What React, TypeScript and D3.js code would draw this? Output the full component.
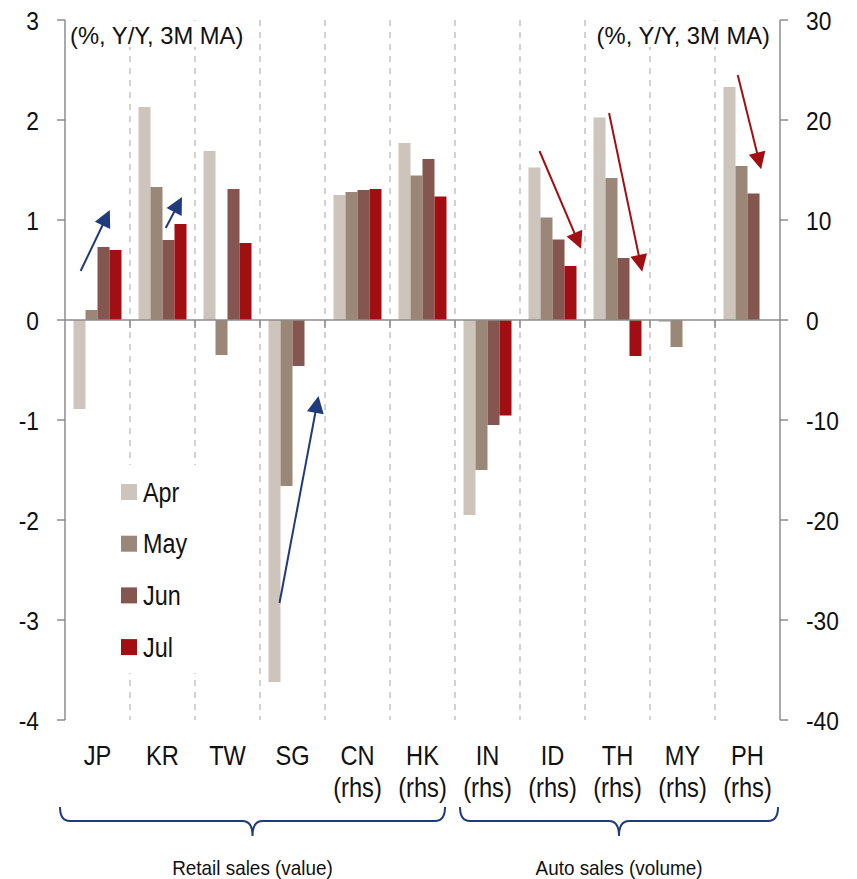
import React from "react";
import * as d3 from "d3";

const categories = ["JP", "KR", "TW", "SG", "CN", "HK", "IN", "ID", "TH", "MY", "PH"];
const onRightAxis = [false, false, false, false, true, true, true, true, true, true, true];
const months = ["Apr", "May", "Jun", "Jul"];

// Growth, % Y/Y 3M MA (lhs countries in left-axis units, rhs countries in right-axis units)
const aprValues = [-0.89, 2.13, 1.69, -3.62, 12.5, 17.7, -19.5, 15.25, 20.25, -0.2, 23.3];
const mayValues = [0.1, 1.33, -0.35, -1.66, 12.8, 14.45, -15.0, 10.25, 14.2, -2.7, 15.4];
const junValues = [0.73, 0.8, 1.31, -0.46, 13.0, 16.1, -10.5, 8.05, 6.2, null, 12.65];
const julValues = [0.7, 0.96, 0.77, null, 13.1, 12.35, -9.55, 5.4, -3.6, null, null];
const seriesValues = [aprValues, mayValues, junValues, julValues];

const leftTicks = [3, 2, 1, 0, -1, -2, -3, -4];
const rightTicks = [30, 20, 10, 0, -10, -20, -30, -40];

// Trend arrows: [x0, y0, x1, y1] with x in category units, y in the named axis units
const upArrows = [
  [0.24, 0.49, 0.69, 1.1],
  [1.55, 0.92, 1.8, 1.23],
  [3.3, -2.83, 3.9, -0.76],
];
const downArrows = [
  [7.3, 16.9, 7.94, 7.13],
  [8.37, 20.7, 8.88, 4.83],
  [10.35, 24.5, 10.71, 15.07],
];

const groups = [
  { label: "Retail sales (value)", from: 0, to: 6 },
  { label: "Auto sales (volume)", from: 6, to: 11 },
];

const colors = ["#cdc4bc", "#9a8778", "#85554f", "#a10f12"];
const axisGray = "#8c8c8c";
const navy = "#1f3b7d";
const arrowRed = "#a10f12";
const font = "'Liberation Sans', Arial, sans-serif";

const W = 857;
const H = 879;
const left = 65;
const right = 780;
const top = 20;
const bottom = 720;

// Narrow-set label: horizontally condensed text
function T(props: {
  x: number;
  y: number;
  size: number;
  sx?: number;
  anchor?: "start" | "middle" | "end";
  children: React.ReactNode;
}) {
  const { x, y, size, sx = 1, anchor = "start", children } = props;
  return (
    <text transform={`translate(${x},${y}) scale(${sx},1)`} fontSize={size} textAnchor={anchor} fill="#111">
      {children}
    </text>
  );
}

export default function App() {
  const x0 = d3.scaleBand<string>().domain(categories).range([left, right]).paddingInner(0).paddingOuter(0);
  const x1 = d3.scaleBand<string>().domain(months).range([8.5, x0.bandwidth() - 8.5]);
  const xc = d3.scaleLinear().domain([0, categories.length]).range([left, right]);
  const yL = d3.scaleLinear().domain([-4, 3]).range([bottom, top]);
  const yR = d3.scaleLinear().domain([-40, 30]).range([bottom, top]);

  const arrow = (a: number[], yScale: d3.ScaleLinear<number, number>, color: string, key: string) => {
    const xa = xc(a[0]);
    const ya = yScale(a[1]);
    const xb = xc(a[2]);
    const yb = yScale(a[3]);
    const len = Math.hypot(xb - xa, yb - ya);
    const ux = (xb - xa) / len;
    const uy = (yb - ya) / len;
    const headLen = 17;
    const headHalf = 8.5;
    const bx = xb - ux * headLen;
    const by = yb - uy * headLen;
    const head = [
      [xb, yb],
      [bx - uy * headHalf, by + ux * headHalf],
      [bx + uy * headHalf, by - ux * headHalf],
    ];
    return (
      <g key={key}>
        <line x1={xa} y1={ya} x2={bx + ux * 2} y2={by + uy * 2} stroke={color} strokeWidth={2} />
        <path d={"M" + head.map((p) => p.join(",")).join("L") + "Z"} fill={color} />
      </g>
    );
  };

  const brace = (x0p: number, x1p: number) => {
    const ytop = 807;
    const yh = 821;
    const ytip = 836;
    const mid = (x0p + x1p) / 2;
    const r = 10;
    return `M${x0p},${ytop} Q${x0p},${yh} ${x0p + r},${yh} H${mid - r} Q${mid},${yh} ${mid},${ytip} Q${mid},${yh} ${mid + r},${yh} H${x1p - r} Q${x1p},${yh} ${x1p},${ytop}`;
  };

  const boundaries = d3.range(1, categories.length).map((i) => xc(i));

  return (
    <svg width={W} height={H} style={{ display: "block", position: "absolute", left: 0, top: 0 }} fontFamily={font}>
      <rect width={W} height={H} fill="#fff" />

      {/* category separators */}
      {boundaries.map((bx, i) => (
        <line key={"sep" + i} x1={bx} x2={bx} y1={top} y2={bottom} stroke="#c4c4c4" strokeWidth={1.5} strokeDasharray="6,6" />
      ))}

      {/* panel labels sit on white */}
      <rect x={66} y={21} width={186} height={26} fill="#fff" />
      <rect x={588} y={21} width={184} height={26} fill="#fff" />
      <T x={70} y={44} size={24.5} sx={0.97}>(%, Y/Y, 3M MA)</T>
      <T x={770} y={44} size={24.5} sx={0.97} anchor="end">(%, Y/Y, 3M MA)</T>

      {/* bars */}
      {categories.map((c, ci) => {
        const y = onRightAxis[ci] ? yR : yL;
        return (
          <g key={c} transform={`translate(${x0(c)},0)`}>
            {months.map((m, mi) => {
              const v = seriesValues[mi][ci];
              if (v === null || v === undefined) return null;
              const y0 = y(0);
              const yv = y(v);
              return (
                <rect
                  key={m}
                  x={x1(m)}
                  width={x1.bandwidth()}
                  y={Math.min(y0, yv)}
                  height={Math.abs(yv - y0)}
                  fill={colors[mi]}
                />
              );
            })}
          </g>
        );
      })}

      {/* zero line and category ticks */}
      <line x1={left} x2={right} y1={yL(0)} y2={yL(0)} stroke={axisGray} strokeWidth={1.5} />
      {boundaries.map((bx, i) => (
        <line key={"zt" + i} x1={bx} x2={bx} y1={yL(0)} y2={yL(0) + 8} stroke={axisGray} strokeWidth={1.5} />
      ))}

      {/* left axis */}
      <line x1={left} x2={left} y1={top} y2={bottom} stroke={axisGray} strokeWidth={1.5} />
      {leftTicks.map((t) => (
        <g key={"l" + t}>
          <line x1={left - 8} x2={left} y1={yL(t)} y2={yL(t)} stroke={axisGray} strokeWidth={1.5} />
          <T x={39} y={yL(t) + 10} size={26.5} sx={0.86} anchor="end">{t}</T>
        </g>
      ))}

      {/* right axis */}
      <line x1={right} x2={right} y1={top} y2={bottom} stroke={axisGray} strokeWidth={1.5} />
      {rightTicks.map((t) => (
        <g key={"r" + t}>
          <line x1={right} x2={right + 8} y1={yR(t)} y2={yR(t)} stroke={axisGray} strokeWidth={1.5} />
          <T x={806} y={yR(t) + 10} size={26.5} sx={0.86}>{t}</T>
        </g>
      ))}

      {/* category labels */}
      {categories.map((c, ci) => {
        const cx = (x0(c) as number) + x0.bandwidth() / 2;
        return (
          <g key={"lab" + c}>
            <T x={cx} y={765} size={27.5} sx={0.86} anchor="middle">{c}</T>
            {onRightAxis[ci] && (
              <T x={cx} y={797} size={27.5} sx={0.86} anchor="middle">(rhs)</T>
            )}
          </g>
        );
      })}

      {/* group braces */}
      {groups.map((g, gi) => {
        const a = gi === 0 ? xc(g.from) - 5 : xc(g.from) + 5;
        const b = gi === 0 ? xc(g.to) - 10 : xc(g.to) - 2;
        return (
          <g key={g.label}>
            <path d={brace(a, b)} fill="none" stroke={navy} strokeWidth={2} />
            <T x={(a + b) / 2} y={875} size={21} sx={0.9} anchor="middle">{g.label}</T>
          </g>
        );
      })}

      {/* legend */}
      <rect x={112} y={465} width={88} height={208} fill="#fff" />
      {months.map((m, mi) => {
        const ly = 484 + mi * 51.7;
        return (
          <g key={"lg" + m}>
            <rect x={121} y={ly} width={16} height={16} fill={colors[mi]} />
            <T x={143} y={ly + 17.5} size={27.5} sx={0.85}>{m}</T>
          </g>
        );
      })}

      {/* trend arrows */}
      {upArrows.map((a, i) => arrow(a, yL, navy, "ua" + i))}
      {downArrows.map((a, i) => arrow(a, yR, arrowRed, "da" + i))}
    </svg>
  );
}
